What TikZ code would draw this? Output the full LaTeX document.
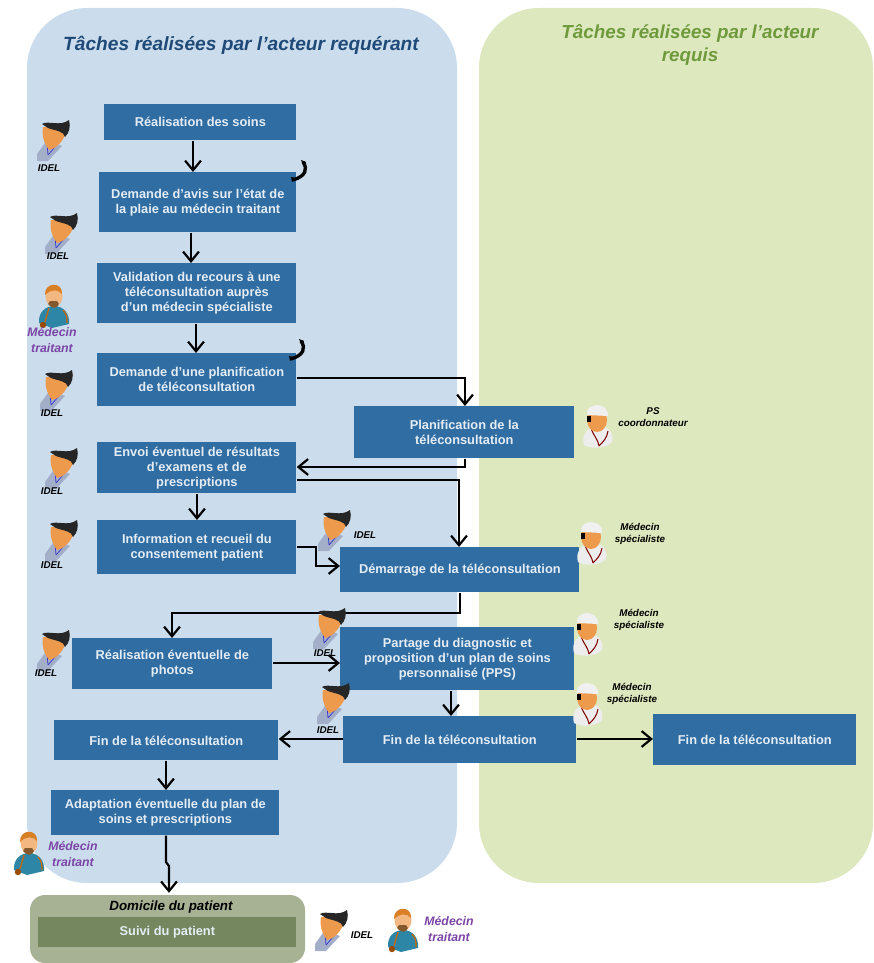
\documentclass[tikz,border=0pt]{standalone}
\usepackage{fontspec}
\setmainfont{Liberation Sans}
\usetikzlibrary{arrows.meta,positioning}

\definecolor{panelblue}{HTML}{CBDDED}
\definecolor{panelgreen}{HTML}{DDE8BE}
\definecolor{boxblue}{HTML}{2F6DA3}
\definecolor{boxtext}{HTML}{E4ECF4}
\definecolor{homeout}{HTML}{A6B293}
\definecolor{homein}{HTML}{75875F}
\definecolor{headblue}{HTML}{1F4A78}
\definecolor{headgreen}{HTML}{6F9A3C}
\definecolor{purplelabel}{HTML}{7B45A6}
\definecolor{skin}{HTML}{EE9A4D}
\definecolor{coat}{HTML}{A3AEC8}
\definecolor{tealcoat}{HTML}{2E86A6}

\tikzset{
  x=0.02cm,y=-0.02cm,
  task/.style={fill=boxblue,text=boxtext,font=\fontsize{7.3}{8.5}\selectfont\bfseries,align=center,inner sep=0pt,anchor=north west},
  link/.style={-{Straight Barb[length=5.5pt,width=9pt,line width=1.25pt]},line width=1.25pt,black},
  who/.style={font=\fontsize{5.6}{7}\selectfont\bfseries\itshape,align=center,inner sep=0pt},
  whomed/.style={font=\fontsize{7}{8.6}\selectfont\bfseries\itshape,text=purplelabel,align=center,inner sep=0pt},
  idelicon/.pic={
    \fill[coat] (-5,0) -- (-15,14) -- (-15,21) -- (-4,21) -- (10,6) -- cycle;
    \draw[blue!60!gray,line width=.4pt] (-5,3) -- (-4,15) (3,7) -- (-4,15);
    \fill[skin] (-9,-13) .. controls (-11,-2) and (-6,6) .. (-3,10) .. controls (3,9) and (10,3) .. (13,-5) -- (13,-13) -- cycle;
    \fill[black!85] (-10,-16) .. controls (-4,-20) and (8,-13) .. (17,-20) .. controls (19,-13) and (17,-7) .. (13,-3) .. controls (12,-9) and (4,-9) .. (-4,-12) -- cycle;
  },
  specicon/.pic={
    \fill[black!7] (-14,20) .. controls (-17,10) and (-10,2) .. (-3,2) -- (6,2) .. controls (12,3) and (16,10) .. (14,17) .. controls (8,24) and (-8,24) .. cycle;
    \draw[red!50!black,line width=.6pt] (-7,3) .. controls (-4,12) and (0,14) .. (1,21) (10,6) .. controls (9,13) and (5,17) .. (1,21);
    \fill[skin] (-1,-5) ellipse (10 and 12);
    \fill[black!6] (-11,-10) .. controls (-13,-23) and (11,-24) .. (10,-9) -- cycle;
    \fill[black] (-11,-9) rectangle (-7,-3);
  },
  medicon/.pic={
    \fill[tealcoat] (-15,17) .. controls (-16,6) and (-8,0) .. (0,0) .. controls (9,0) and (16,7) .. (15,18) -- (-2,22) -- cycle;
    \draw[orange!80!black,line width=.7pt] (-5,2) -- (-9,16) (9,4) .. controls (13,8) and (13,12) .. (13,17);
    \fill[orange!60!black] (-11,19) circle (3.2);
    \fill[skin!70!white] (0,-10) ellipse (8.5 and 11);
    \fill[brown!70!black] (-6,-2) .. controls (-2,3) and (3,3) .. (5,-2) -- (3,-5) -- (-4,-5) -- cycle;
    \fill[brown!60!orange] (-9,-11) .. controls (-10,-24) and (9,-25) .. (8,-12) .. controls (4,-17) and (-3,-17) .. cycle;
  },
  phoneicon/.pic={
    \draw[black,line width=1.9pt] (3,-10) .. controls (8,-3) and (6,4) .. (-7,8);
    \fill[black] (1,-12) -- (6,-10) -- (4,-5) -- cycle (-9,5) -- (-4,6) -- (-8,10) -- cycle;
  }
}

\begin{document}
\begin{tikzpicture}
\useasboundingbox (0,0) rectangle (874,963);

% panels
\fill[panelblue,rounded corners=1.2cm] (27,8) rectangle (457,883);
\fill[panelgreen,rounded corners=1.2cm] (479,8) rectangle (873,883);
\fill[homeout,rounded corners=0.3cm] (30,895) rectangle (305,963);

\node[font=\fontsize{10.9}{13}\selectfont\bfseries\itshape,text=headblue] (titleleft) at (241,45) {Tâches réalisées par l’acteur requérant};
\node[font=\fontsize{10.7}{13.2}\selectfont\bfseries\itshape,text=headgreen,align=center] (titleright) at (690,45) {Tâches réalisées par l’acteur\\requis};

% tasks
\node[task,minimum width=192*0.02cm,minimum height=36*0.02cm] (soins) at (104,104) {Réalisation des soins};
\node[task,minimum width=197*0.02cm,minimum height=60*0.02cm] (avis) at (99,172) {Demande d’avis sur l’état de\\la plaie au médecin traitant};
\node[task,minimum width=199*0.02cm,minimum height=60*0.02cm] (valid) at (97,263) {Validation du recours à une\\téléconsultation auprès\\d’un médecin spécialiste};
\node[task,minimum width=199*0.02cm,minimum height=53*0.02cm] (demplan) at (97,353) {Demande d’une planification\\de téléconsultation};
\node[task,minimum width=220*0.02cm,minimum height=52*0.02cm] (planif) at (354,406) {Planification de la\\téléconsultation};
\node[task,minimum width=199*0.02cm,minimum height=51*0.02cm] (envoi) at (97,442) {Envoi éventuel de résultats\\d’examens et de\\prescriptions};
\node[task,minimum width=199*0.02cm,minimum height=54*0.02cm] (info) at (97,520) {Information et recueil du\\consentement patient};
\node[task,minimum width=239*0.02cm,minimum height=45*0.02cm] (demar) at (340,547) {Démarrage de la téléconsultation};
\node[task,minimum width=200*0.02cm,minimum height=51*0.02cm] (photos) at (72,638) {Réalisation éventuelle de\\photos};
\node[task,minimum width=234*0.02cm,minimum height=63*0.02cm] (partage) at (340,627) {Partage du diagnostic et\\proposition d’un plan de soins\\personnalisé (PPS)};
\node[task,minimum width=233*0.02cm,minimum height=47*0.02cm] (finmid) at (343,716) {Fin de la téléconsultation};
\node[task,minimum width=203*0.02cm,minimum height=51*0.02cm] (finright) at (653,714) {Fin de la téléconsultation};
\node[task,minimum width=224*0.02cm,minimum height=40*0.02cm] (finleft) at (54,720) {Fin de la téléconsultation};
\node[task,minimum width=228*0.02cm,minimum height=45*0.02cm] (adapt) at (51,790) {Adaptation éventuelle du plan de\\soins et prescriptions};
\node[font=\fontsize{7.6}{9}\selectfont\bfseries\itshape] (domicile) at (171,907) {Domicile du patient};
\node[task,fill=homein,minimum width=258*0.02cm,minimum height=30*0.02cm] (suivi) at (38,917) {Suivi du patient};

% connectors
\coordinate (kinka) at (465,378);
\coordinate (kinkb) at (465,467);
\coordinate (kinkc) at (459,480);
\coordinate (kinkd) at (316,547);
\coordinate (kinke) at (316,566);
\coordinate (kinkf) at (460,613);
\coordinate (kinkg) at (172,613);
\coordinate (kinkh) at (166,862);
\coordinate (kinki) at (169,866);

\draw[link] (soins.south -| 193,0) -- (avis.north -| 193,0);
\draw[link] (avis.south -| 191,0) -- (valid.north -| 191,0);
\draw[link] (valid.south -| 196,0) -- (demplan.north -| 196,0);
\draw[link] (demplan.east |- kinka) -- (kinka) -- (planif.north -| kinka);
\draw[link] (planif.south -| kinkb) -- (kinkb) -- (envoi.east |- kinkb);
\draw[link] (envoi.east |- kinkc) -- (kinkc) -- (demar.north -| kinkc);
\draw[link] (envoi.south -| 197,0) -- (info.north -| 197,0);
\draw[link] (info.east |- kinkd) -- (kinkd) -- (kinke) -- (demar.west |- kinke);
\draw[link] (demar.south -| kinkf) -- (kinkf) -- (kinkg) -- (photos.north -| kinkg);
\draw[link] (photos.east |- 0,663) -- (partage.west |- 0,663);
\draw[link] (partage.south -| 451,0) -- (finmid.north -| 451,0);
\draw[link] (finmid.west |- 0,739) -- (finleft.east |- 0,739);
\draw[link] (finmid.east |- 0,739) -- (finright.west |- 0,739);
\draw[link] (finleft.south -| 166,0) -- (adapt.north -| 166,0);
\draw[link,shorten >=1pt] (adapt.south -| kinkh) -- (kinkh) -- (kinki) -- (domicile.north -| kinki);

% actors
\foreach \px/\py in {52/140,60/233,55/390,60/468,60/540,333/530,52/650,328/628,332/703,330/930}
  \pic at (\px,\py) {idelicon};
\foreach \px/\py in {598/425,592/542,588/633,588/703}
  \pic at (\px,\py) {specicon};
\foreach \px/\py in {54/306,29/853,403/930}
  \pic at (\px,\py) {medicon};
\pic at (300,172) {phoneicon};
\pic at (298,351) {phoneicon};

\node[who] (idela) at (49,168) {IDEL};
\node[who] (idelb) at (58,256) {IDEL};
\node[who] (idelc) at (52,413) {IDEL};
\node[who] (ideld) at (52,491) {IDEL};
\node[who] (idele) at (52,565) {IDEL};
\node[who] (idelf) at (365,535) {IDEL};
\node[who] (idelg) at (46,673) {IDEL};
\node[who] (idelh) at (325,653) {IDEL};
\node[who] (ideli) at (328,730) {IDEL};
\node[who] (idelj) at (362,935) {IDEL};
\node[who] (speca) at (653,417) {PS\\coordonnateur};
\node[who] (specb) at (640,534) {Médecin\\spécialiste};
\node[who] (specc) at (639,620) {Médecin\\spécialiste};
\node[who] (specd) at (632,694) {Médecin\\spécialiste};
\node[whomed] (meda) at (52,340) {Médecin\\traitant};
\node[whomed] (medb) at (73,854) {Médecin\\traitant};
\node[whomed] (medc) at (449,929) {Médecin\\traitant};
\end{tikzpicture}
\end{document}
